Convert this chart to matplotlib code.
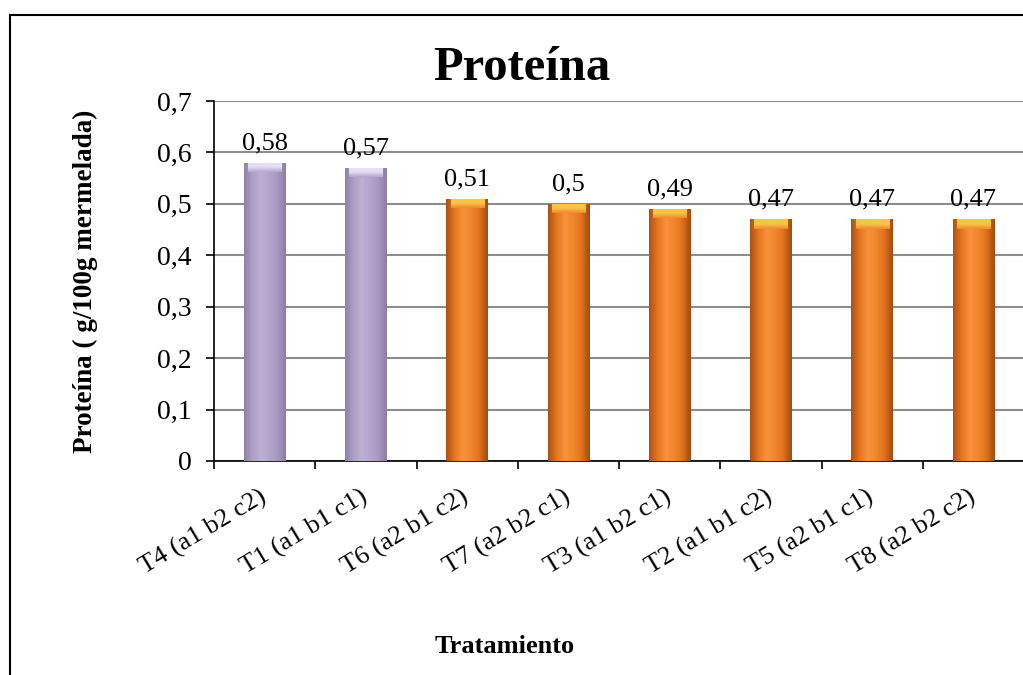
import numpy as np
import matplotlib
matplotlib.use("Agg")
import matplotlib.pyplot as plt
from matplotlib.colors import LinearSegmentedColormap
from matplotlib.lines import Line2D

plt.rcParams['font.family'] = ['Liberation Serif', 'DejaVu Serif']

# data
tratamientos = ["T4 (a1 b2 c2)", "T1 (a1 b1 c1)", "T6 (a2 b1 c2)", "T7 (a2 b2 c1)",
                "T3 (a1 b2 c1)", "T2 (a1 b1 c2)", "T5 (a2 b1 c1)", "T8 (a2 b2 c2)"]
proteina = [0.58, 0.57, 0.51, 0.50, 0.49, 0.47, 0.47, 0.47]
etiquetas = ["0,58", "0,57", "0,51", "0,5", "0,49", "0,47", "0,47", "0,47"]
grupo = ["morado", "morado", "naranja", "naranja", "naranja", "naranja", "naranja", "naranja"]
yticks = [0, 0.1, 0.2, 0.3, 0.4, 0.5, 0.6, 0.7]
ytick_labels = ["0", "0,1", "0,2", "0,3", "0,4", "0,5", "0,6", "0,7"]

# colour styles: (body gradient across the bar, top cap colour, main colour)
estilos = {
    "morado": (["#8f82a8", "#ad9fc6", "#bcb0d3", "#b3a6cc", "#a899c2", "#8b7ea3"], "#e6def2", "#b3a6cc"),
    "naranja": (["#a8531a", "#e5761f", "#f7923a", "#f2862c", "#e0721d", "#9f4c16"], "#f6c548", "#f08a2e"),
}

fig = plt.figure(figsize=(10.23, 6.75), dpi=100)
ax = fig.add_axes([214 / 1023, 214 / 675, 810 / 1023, 360 / 675])

x = np.arange(len(tratamientos))
colores = [estilos[g][2] for g in grupo]
bars = ax.bar(x, proteina, width=0.41, color=colores, zorder=2, linewidth=0)

# shading to mimic the bevelled Excel bars
grad = np.linspace(0, 1, 64).reshape(1, -1)
vgrad = np.linspace(0, 1, 32).reshape(-1, 1)
for b, g in zip(bars, grupo):
    body, cap, main = estilos[g]
    cmap = LinearSegmentedColormap.from_list("b", body)
    bx, bw, bh = b.get_x(), b.get_width(), b.get_height()
    im = ax.imshow(grad, extent=(bx, bx + bw, 0, bh), cmap=cmap, aspect="auto",
                   zorder=3, interpolation="bilinear")
    im.set_clip_path(b)
    ch = 0.018
    cmap2 = LinearSegmentedColormap.from_list("c", [main, cap, cap])
    im2 = ax.imshow(vgrad, extent=(bx + bw * 0.1, bx + bw * 0.9, bh - ch, bh), cmap=cmap2,
                    aspect="auto", origin="lower", zorder=4, interpolation="bilinear")
    im2.set_clip_path(b)

for xi, v, t in zip(x, proteina, etiquetas):
    ax.annotate(t, (xi, v), xytext=(0, 6), textcoords="offset points",
                ha="center", va="bottom", fontsize=19, zorder=5)

ax.set_xlim(-0.5, len(tratamientos) - 0.5)
ax.set_ylim(0, 0.7)
ax.set_yticks(yticks)
ax.set_yticklabels(ytick_labels, fontsize=20)
ax.yaxis.grid(True, color="#8c8c8c", linewidth=1.5, zorder=0)
ax.set_axisbelow(True)

ax.set_xticks(x)
ax.set_xticklabels(tratamientos, fontsize=19, rotation=31, ha="right",
                   rotation_mode="anchor", va="center")
ax.set_xticks(np.arange(-0.5, len(tratamientos), 1), minor=True)
ax.tick_params(axis="x", which="major", length=0, pad=25)
ax.tick_params(axis="x", which="minor", length=6, width=1.2, direction="out")
ax.tick_params(axis="y", length=6, width=1.2, direction="out", pad=10)

for s in ["top", "right"]:
    ax.spines[s].set_visible(False)
ax.spines["left"].set_linewidth(1.2)
ax.spines["bottom"].set_linewidth(1.2)

ax.set_ylabel("Proteína ( g/100g mermelada)", fontsize=19.5, fontweight="bold")
ax.yaxis.set_label_coords(-0.143, 0.5)
ax.set_xlabel("Tratamiento", fontsize=19, fontweight="bold")
ax.xaxis.set_label_coords(0.359, -0.483)

fig.text(522 / 1023, 1 - 80 / 675, "Proteína", fontsize=35, fontweight="bold",
         ha="center", va="baseline")

# outer chart border (cut at right and bottom)
fig.add_artist(Line2D([10 / 1023, 10 / 1023], [0, 1 - 15 / 675], color="black", linewidth=1.5))
fig.add_artist(Line2D([10 / 1023, 1], [1 - 15 / 675, 1 - 15 / 675], color="black", linewidth=1.5))

fig.savefig("out.png", dpi=100)
